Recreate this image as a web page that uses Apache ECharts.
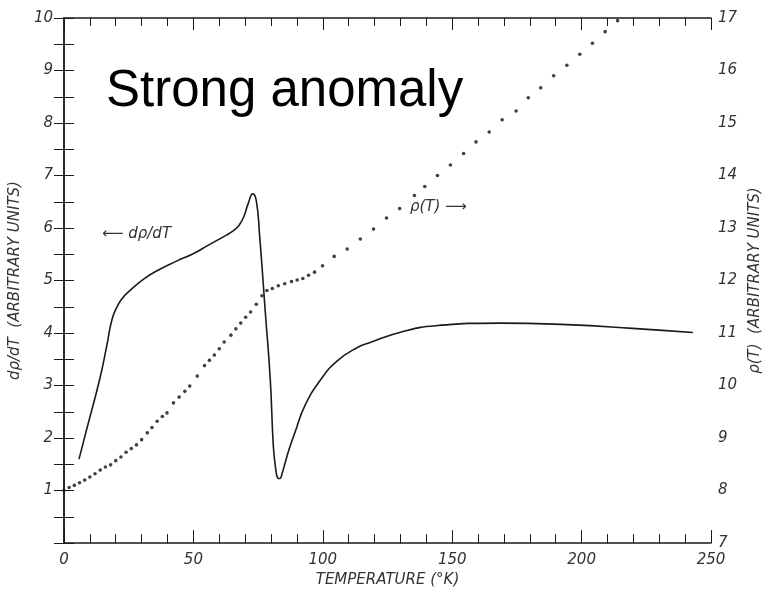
<!DOCTYPE html>
<html>
<head>
<meta charset="utf-8">
<script src="https://cdn.jsdelivr.net/npm/echarts@6/dist/echarts.min.js"></script>
<style>
  html, body { margin: 0; padding: 0; background: #fff; }
  #chart { width: 771px; height: 593px; }
</style>
</head>
<body>
<div id="chart"></div>
<script>
// d(rho)/dT solid curve, left axis
var curveTemp = [5.8, 9, 13.8, 16.5, 18.5, 20.5, 22.5, 24.6, 30.9, 37.2, 43.5, 49.9, 56, 62.6, 65.5, 67.6, 69.5, 71.2, 72.9, 74.3, 75.6, 77.8, 79.7, 80.9, 81.8, 82.6, 83.4, 84.3, 85.4, 87.2, 89.2, 93, 99.3, 105.6, 113.2, 118.3, 131, 143.6, 169, 194.3, 219.6, 243];
var curveVals = [1.60, 2.21, 3.12, 3.75, 4.25, 4.5, 4.66, 4.77, 5.03, 5.22, 5.37, 5.51, 5.68, 5.86, 5.95, 6.05, 6.22, 6.47, 6.65, 6.52, 5.85, 4.39, 3.12, 1.84, 1.42, 1.24, 1.23, 1.33, 1.52, 1.82, 2.10, 2.61, 3.12, 3.47, 3.72, 3.82, 4.03, 4.14, 4.19, 4.16, 4.09, 4.01];

// rho(T) dotted points, right axis
var dotTemp = [0, 2, 4, 6, 8, 10, 12, 14, 16, 18, 20, 22, 24, 26, 28, 30, 32.2, 34, 36, 38, 39.8, 42.3, 44.5, 46.7, 48.6, 51.5, 54.3, 56.2, 58.1, 60, 61.9, 64.5, 66.4, 68.3, 70.2, 72.1, 74.3, 76.5, 78.4, 80.5, 82.8, 85.3, 87.9, 90.1, 92.3, 94.5, 96.8, 99.9, 104.4, 109.4, 114.5, 119.6, 124.6, 129.7, 135.4, 139.4, 144.3, 149.3, 154.4, 159.2, 164.3, 169.3, 174.7, 179.4, 184.2, 189.2, 194.3, 199.3, 204.2, 209.1, 213.9];
var dotVals = [8.00, 8.06, 8.10, 8.15, 8.20, 8.26, 8.32, 8.39, 8.45, 8.49, 8.57, 8.64, 8.73, 8.80, 8.87, 8.97, 9.10, 9.20, 9.32, 9.41, 9.48, 9.67, 9.78, 9.89, 9.99, 10.18, 10.38, 10.48, 10.58, 10.70, 10.83, 10.96, 11.08, 11.19, 11.30, 11.40, 11.55, 11.71, 11.81, 11.85, 11.90, 11.94, 11.98, 12.01, 12.04, 12.10, 12.16, 12.28, 12.46, 12.6, 12.79, 12.98, 13.19, 13.37, 13.62, 13.79, 14.0, 14.2, 14.42, 14.64, 14.83, 15.06, 15.23, 15.48, 15.67, 15.9, 16.1, 16.31, 16.52, 16.74, 16.95];

var xTicks = [0, 50, 100, 150, 200, 250];
var leftTicks = [1, 2, 3, 4, 5, 6, 7, 8, 9, 10];
var rightTicks = [7, 8, 9, 10, 11, 12, 13, 14, 15, 16, 17];

var ink = '#1a1a1a';
var labelFont = {
  fontFamily: 'DejaVu Sans',
  fontStyle: 'italic',
  fontSize: 15,
  color: '#333'
};

function pairs(xs, ys) {
  return xs.map(function (x, i) { return [x, ys[i]]; });
}

var chart = echarts.init(document.getElementById('chart'));

var option = {
  animation: false,
  backgroundColor: '#fff',
  grid: { left: 62, right: 51, top: 18, bottom: 49 },
  xAxis: [{
    type: 'value',
    min: 0,
    max: 250,
    interval: 50,
    name: 'TEMPERATURE (°K)',
    nameLocation: 'middle',
    nameGap: 28,
    nameTextStyle: { fontFamily: 'DejaVu Sans', fontStyle: 'italic', fontSize: 15, color: '#333' },
    axisLine: { lineStyle: { color: ink, width: 1.5 } },
    axisTick: { inside: true, length: 13, lineStyle: { color: ink } },
    minorTick: { show: true, splitNumber: 5, length: 9, lineStyle: { color: ink } },
    splitLine: { show: false },
    axisLabel: Object.assign({
      margin: 10,
      formatter: function (v) { return xTicks.indexOf(v) >= 0 ? String(v) : ''; }
    }, labelFont)
  }, {
    type: 'value',
    position: 'top',
    min: 0,
    max: 250,
    interval: 50,
    axisLine: { show: true, lineStyle: { color: ink, width: 1.5 } },
    axisTick: { inside: true, length: 12, lineStyle: { color: ink } },
    minorTick: { show: true, splitNumber: 5, length: 8, lineStyle: { color: ink } },
    splitLine: { show: false },
    axisLabel: { show: false }
  }],
  yAxis: [{
    type: 'value',
    position: 'left',
    min: 0,
    max: 10,
    interval: 1,
    name: 'dρ/dT  (ARBITRARY UNITS)',
    nameLocation: 'middle',
    nameRotate: 90,
    nameGap: 27,
    nameTextStyle: { fontFamily: 'DejaVu Sans', fontStyle: 'italic', fontSize: 15, color: '#333' },
    axisLine: { show: true, lineStyle: { color: ink, width: 1.5 } },
    axisTick: { inside: true, length: 10, lineStyle: { color: ink } },
    minorTick: { show: true, splitNumber: 2, length: 10, lineStyle: { color: ink } },
    splitLine: { show: false },
    axisLabel: Object.assign({
      margin: 11,
      formatter: function (v) { return leftTicks.indexOf(v) >= 0 ? String(v) : ''; }
    }, labelFont)
  }, {
    type: 'value',
    position: 'right',
    min: 7,
    max: 17,
    interval: 1,
    name: 'ρ(T)  (ARBITRARY UNITS)',
    nameLocation: 'middle',
    nameRotate: 90,
    nameGap: 32,
    nameTextStyle: { fontFamily: 'DejaVu Sans', fontStyle: 'italic', fontSize: 15, color: '#333' },
    axisLine: { show: true, lineStyle: { color: ink, width: 1.5 } },
    axisTick: { inside: true, length: 10, lineStyle: { color: ink } },
    minorTick: { show: true, splitNumber: 2, length: 10, lineStyle: { color: ink } },
    splitLine: { show: false },
    axisLabel: Object.assign({
      margin: 7,
      formatter: function (v) { return rightTicks.indexOf(v) >= 0 ? String(v) : ''; }
    }, labelFont)
  }],
  series: [{
    name: 'dρ/dT',
    type: 'line',
    xAxisIndex: 0,
    yAxisIndex: 0,
    data: pairs(curveTemp, curveVals),
    smooth: 0.5,
    showSymbol: false,
    lineStyle: { color: ink, width: 1.6 }
  }, {
    name: 'ρ(T)',
    type: 'scatter',
    xAxisIndex: 0,
    yAxisIndex: 1,
    data: pairs(dotTemp, dotVals),
    symbolSize: 3.6,
    itemStyle: { color: '#111' }
  }],
  graphic: [{
    type: 'text',
    left: 106,
    top: 66,
    style: {
      text: 'Strong anomaly',
      font: '51px "Liberation Sans", Arial, sans-serif',
      fill: '#000'
    }
  }, {
    type: 'text',
    left: 102,
    top: 227,
    style: {
      text: '⟵ dρ/dT',
      font: 'italic 15px "DejaVu Sans", sans-serif',
      fill: '#333'
    }
  }, {
    type: 'text',
    left: 410,
    top: 200,
    style: {
      text: 'ρ(T) ⟶',
      font: 'italic 15px "DejaVu Sans", sans-serif',
      fill: '#333'
    }
  }]
};

chart.setOption(option, true);
</script>
</body>
</html>
